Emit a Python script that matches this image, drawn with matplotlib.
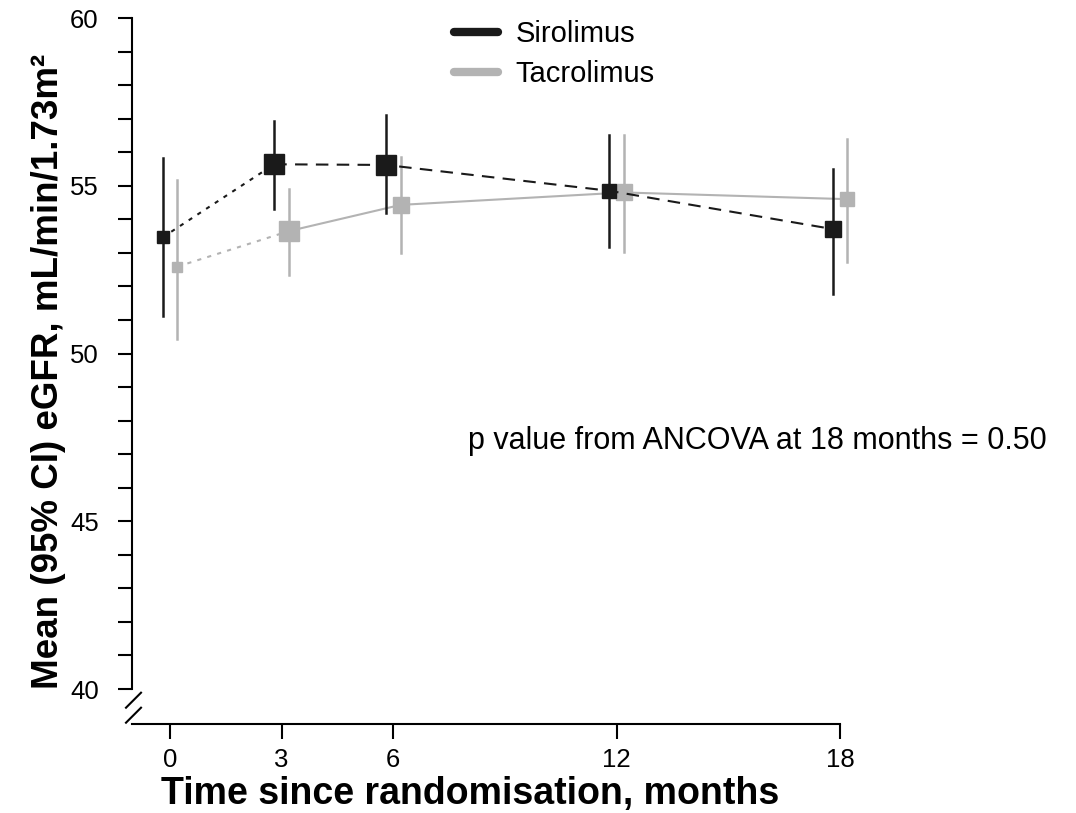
import matplotlib
matplotlib.use("Agg")
import matplotlib.pyplot as plt
import numpy as np

plt.rcParams['font.family'] = ['Liberation Sans', 'DejaVu Sans']

months = [0, 3, 6, 12, 18]
month_labels = ['0', '3', '6', '12', '18']

# Sirolimus (plotted slightly left of each time point)
siro_mean = [53.46, 55.64, 55.62, 54.85, 53.71]
siro_lo = [51.13, 54.31, 54.20, 53.17, 51.77]
siro_hi = [55.82, 56.93, 57.10, 56.51, 55.50]
siro_size = [8, 14, 14, 10, 11]

# Tacrolimus (plotted slightly right)
tacro_mean = [52.59, 53.65, 54.43, 54.80, 54.60]
tacro_lo = [50.43, 52.34, 52.99, 53.03, 52.72]
tacro_hi = [55.17, 54.90, 55.87, 56.51, 56.38]
tacro_size = [7, 14, 12, 12, 10]

black = '#1a1a1a'
grey = '#b3b3b3'

W, H = 1076, 813
fig = plt.figure(figsize=(W / 100, H / 100), dpi=100)
# axes box in pixels: x 132..840, y 18..724 (from top)
ax = fig.add_axes([132 / W, (H - 724) / H, (840 - 132) / W, (724 - 18) / H])

px_per_y = (689 - 18) / 20.0
ax.set_ylim(40 - (724 - 689) / px_per_y, 60)
px_per_x = (840 - 170) / 18.0
ax.set_xlim(-(170 - 132) / px_per_x, 18)


def draw(x, mean, lo, hi, size, color, rest_ls):
    x = np.array(x)
    ax.plot(x[:2], mean[:2], color=color, ls=(0, (2, 3)), lw=1.5, clip_on=False)
    ax.plot(x[1:], mean[1:], color=color, ls=rest_ls, lw=1.5, clip_on=False)
    for xi, m, l, h, s in zip(x, mean, lo, hi, size):
        ax.plot([xi, xi], [l, h], color=color, lw=1.8, clip_on=False)
        ax.plot(xi, m, marker='s', ms=s, color=color, mec=color, ls='none', clip_on=False)


siro_x = [m - 0.2 for m in months]
tacro_x = [m + 0.2 for m in months]
draw(tacro_x, tacro_mean, tacro_lo, tacro_hi, tacro_size, grey, '-')
draw(siro_x, siro_mean, siro_lo, siro_hi, siro_size, black, (0, (6, 4)))

for s in ['top', 'right']:
    ax.spines[s].set_visible(False)
ax.spines['left'].set_bounds(40, 60)
ax.spines['left'].set_linewidth(1.5)
ax.spines['bottom'].set_linewidth(1.5)

ax.set_yticks(np.arange(40, 61, 5))
ax.set_yticks(np.arange(40, 61, 1), minor=True)
ax.tick_params(axis='y', which='both', direction='out', length=10, width=1.5, labelsize=18.5, pad=14)
ax.set_xticks(months)
ax.set_xticklabels(month_labels)
ax.tick_params(axis='x', direction='out', length=11, width=1.5, labelsize=18.5, pad=6)

ax.set_xlabel('Time since randomisation, months', fontsize=27, fontweight='bold', labelpad=3)
ax.xaxis.label.set_x(0.477)
ax.set_ylabel('Mean (95% CI) eGFR, mL/min/1.73m²', fontsize=26.5, fontweight='bold', labelpad=3)

# axis break marks
for y0 in [692.7, 707.7]:
    fig.add_artist(plt.Line2D([126 / W, 141 / W], [(H - y0 - 15) / H, (H - y0) / H],
                              color='black', lw=1.5))

# legend
ax.plot([], [], color=black, lw=6, solid_capstyle='round', label='Sirolimus')
ax.plot([], [], color=grey, lw=6, solid_capstyle='round', label='Tacrolimus')
ax.legend(loc='upper left', bbox_to_anchor=((428 - 132) / (840 - 132), 1.034), frameon=False,
          fontsize=21, handlelength=1.5, handletextpad=0.6, labelspacing=0.4)

ax.text(8.0, 47.4, 'p value from ANCOVA at 18 months = 0.50', fontsize=22, va='center', clip_on=False)

fig.savefig('out.png', dpi=100)
